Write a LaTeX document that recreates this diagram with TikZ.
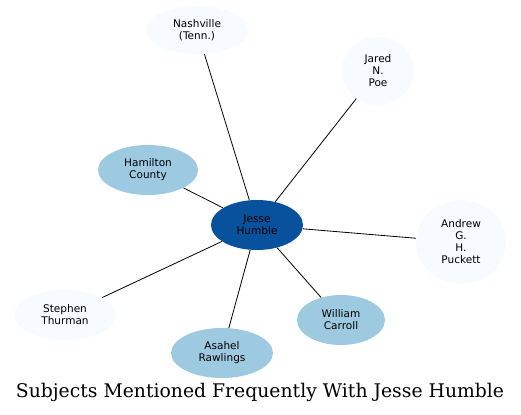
\documentclass[tikz,border=0pt]{standalone}
\usepackage{fontspec}
\newfontfamily\nodefont{DejaVu Sans}
\newfontfamily\titlefont{DejaVu Serif}
\usetikzlibrary{shapes.geometric}
\definecolor{dark}{HTML}{08519C}
\definecolor{mid}{HTML}{9ECAE1}
\definecolor{pale}{HTML}{F7FBFF}
\tikzset{
  ent/.style={ellipse, inner sep=0pt, align=center, font=\nodefont\fontsize{7.9}{9}\selectfont, text=black},
  darkent/.style={ent, fill=dark},
  mident/.style={ent, fill=mid},
  paleent/.style={ent, fill=pale},
  link/.style={draw=black, line width=0.6pt}
}
\begin{document}
\begin{tikzpicture}[x=0.75pt,y=-0.75pt]
\useasboundingbox[fill=white] (0,0) rectangle (521,414);
\node[paleent, minimum width=102*0.75pt, minimum height=48*0.75pt] (nash) at (197,30) {Nashville\\(Tenn.)};
\node[paleent, minimum width=72*0.75pt, minimum height=68*0.75pt] (poe) at (378,71) {Jared\\N.\\Poe};
\node[mident, minimum width=100*0.75pt, minimum height=50*0.75pt] (ham) at (148,170) {Hamilton\\County};
\node[darkent, minimum width=92*0.75pt, minimum height=50*0.75pt] (jesse) at (257,225) {Jesse\\Humble};
\node[paleent, minimum width=90*0.75pt, minimum height=84*0.75pt] (puck) at (461,242) {Andrew\\G.\\H.\\Puckett};
\node[paleent, minimum width=102*0.75pt, minimum height=50*0.75pt] (thur) at (65,315) {Stephen\\Thurman};
\node[mident, minimum width=102*0.75pt, minimum height=50*0.75pt] (raw) at (222,353) {Asahel\\Rawlings};
\node[mident, minimum width=88*0.75pt, minimum height=50*0.75pt] (carr) at (341,320) {William\\Carroll};
\node[font=\titlefont\fontsize{14.1}{16}\selectfont, anchor=base] (title) at (260,397) {Subjects Mentioned Frequently With Jesse Humble};
\draw[link] (jesse) -- (nash);
\draw[link] (jesse) -- (poe);
\draw[link] (jesse) -- (ham);
\draw[link] (jesse) -- (puck);
\draw[link] (jesse) -- (thur);
\draw[link] (jesse) -- (raw);
\draw[link] (jesse) -- (carr);
\end{tikzpicture}
\end{document}
